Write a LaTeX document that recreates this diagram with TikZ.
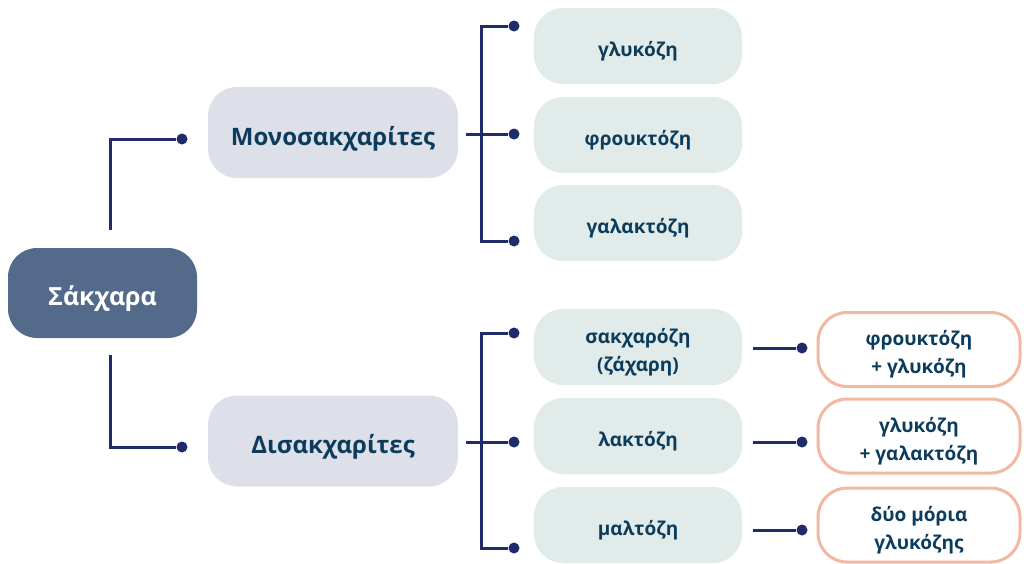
\documentclass[tikz,border=0pt]{standalone}
\usepackage{fontspec}
\setmainfont{Open Sans}
\definecolor{navy}{HTML}{1F2B6A}
\definecolor{ink}{HTML}{0C3C5C}
\definecolor{rootfill}{HTML}{546A8A}
\definecolor{catfill}{HTML}{DDE0E9}
\definecolor{itemfill}{HTML}{E1EBE9}
\definecolor{resline}{HTML}{F2B8A2}
\tikzset{
  box/.style={rectangle, rounded corners=29pt, inner sep=0pt},
  txt/.style={inner sep=0pt, align=center, text=ink, yshift=-5pt, font=\bfseries\fontsize{19}{28}\selectfont},
  bigtxt/.style={txt, yshift=-1pt, font=\bfseries\fontsize{24}{28}\selectfont},
  rootbox/.style={box, fill=rootfill, minimum width=189pt, minimum height=90pt,
    label={[bigtxt, text=white, font=\bfseries\fontsize{25}{28}\selectfont]center:#1}},
  catbox/.style={box, fill=catfill, minimum width=250pt, minimum height=91pt,
    label={[bigtxt]center:#1}},
  itembox/.style={box, fill=itemfill, minimum width=208pt, minimum height=76pt,
    label={[txt]center:#1}},
  resbox/.style={box, fill=white, draw=resline, line width=3pt, minimum width=202pt, minimum height=74pt,
    label={[txt]center:#1}},
  link/.style={draw=navy, line width=3pt},
  dot/.style={circle, fill=navy, inner sep=0pt, minimum size=11pt}
}
\begin{document}
\begin{tikzpicture}[x=1pt, y=-1pt]
\useasboundingbox (0,0) rectangle (1024,563);

% main boxes
\node[rootbox={Σάκχαρα}] (root) at (102.5,293) {};
\node[catbox={Μονοσακχαρίτες}] (mono) at (333,132.5) {};
\node[catbox={Δισακχαρίτες}] (di) at (333,441) {};

% monosaccharides
\node[itembox={γλυκόζη}] (g1) at (638,46) {};
\node[itembox={φρουκτόζη}] (g2) at (638,135) {};
\node[itembox={γαλακτόζη}] (g3) at (638,223) {};

% disaccharides
\node[itembox={σακχαρόζη\\(ζάχαρη)}] (d1) at (638,347) {};
\node[itembox={λακτόζη}] (d2) at (638,436) {};
\node[itembox={μαλτόζη}] (d3) at (638,525) {};

% products of hydrolysis
\node[resbox={φρουκτόζη\\+ γλυκόζη}] (r1) at (919,349.5) {};
\node[resbox={γλυκόζη\\+ γαλακτόζη}] (r2) at (919,436) {};
\node[resbox={δύο μόρια\\γλυκόζης}] (r3) at (919,525) {};

% root to categories
\coordinate (rt) at (110,230);
\coordinate (rb) at (110,355);
\node[dot] (pm) at (182,139) {};
\node[dot] (pd) at (182,447) {};
\draw[link] (rt) |- (pm);
\draw[link] (rb) |- (pd);

% monosaccharide bracket
\coordinate (mj) at (466,134);
\node[dot] (p1) at (514,26) {};
\node[dot] (p2) at (514,134) {};
\node[dot] (p3) at (514,241) {};
\draw[link] (mj) -- (p2);
\draw[link] (p1) -| (481,241) -- (p3);

% disaccharide bracket
\coordinate (dj) at (466,442);
\node[dot] (q1) at (514,333) {};
\node[dot] (q2) at (514,442) {};
\node[dot] (q3) at (514,548) {};
\draw[link] (dj) -- (q2);
\draw[link] (q1) -| (481,548) -- (q3);

% disaccharides to products
\node[dot] (s1) at (802,348) {};
\node[dot] (s2) at (802,442) {};
\node[dot] (s3) at (802,530) {};
\draw[link] (d1.east |- s1) ++(11,0) -- (s1);
\draw[link] (d2.east |- s2) ++(11,0) -- (s2);
\draw[link] (d3.east |- s3) ++(11,0) -- (s3);
\end{tikzpicture}
\end{document}
